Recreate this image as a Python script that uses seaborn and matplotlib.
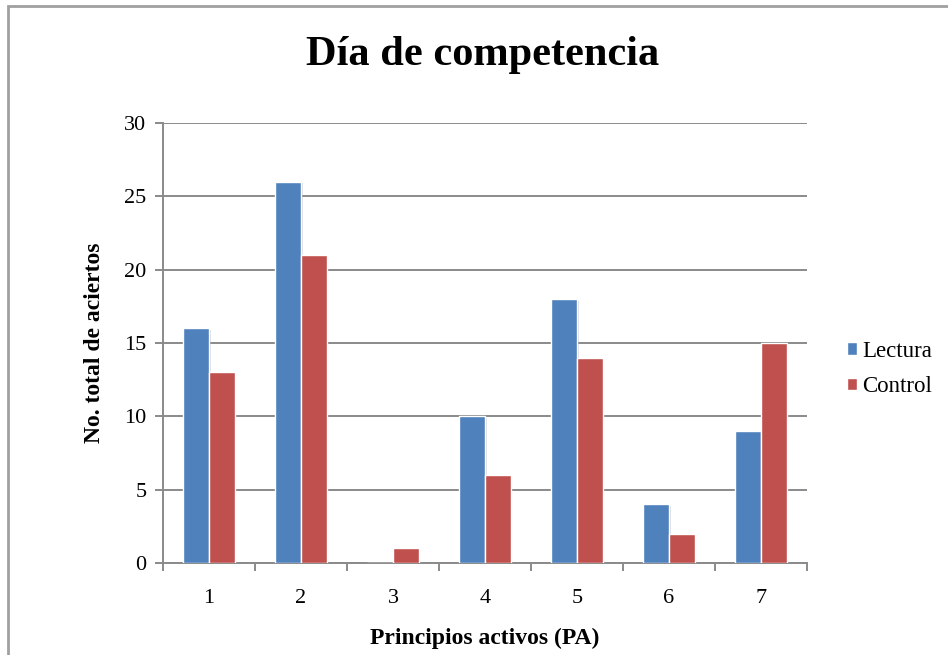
import matplotlib
matplotlib.use("Agg")
import matplotlib.pyplot as plt
import matplotlib.patheffects as pe
from matplotlib.patches import Rectangle, Patch
import numpy as np
import pandas as pd
import seaborn as sns

# Data
principios = ["1", "2", "3", "4", "5", "6", "7"]
lectura = [16, 26, 0, 10, 18, 4, 9]
control = [13, 21, 1, 6, 14, 2, 15]
series_names = ["Lectura", "Control"]
series_colors = ["#4F81BD", "#C0504D"]

df = pd.DataFrame({
    "PA": principios * 2,
    "valor": lectura + control,
    "grupo": [series_names[0]] * len(principios) + [series_names[1]] * len(principios),
})

sns.set_theme(style="white")
plt.rcParams["font.family"] = ["Liberation Serif", "DejaVu Serif"]
plt.rcParams["text.color"] = "black"
plt.rcParams["axes.labelcolor"] = "black"

fig = plt.figure(figsize=(9.48, 6.55), dpi=100)
ax = fig.add_axes([163 / 948, 1 - 563 / 655, (807 - 163) / 948, (563 - 123) / 655])

sns.barplot(data=df, x="PA", y="valor", hue="grupo", order=principios,
            hue_order=series_names, palette=series_colors, width=0.56,
            edgecolor="white", linewidth=1.0, saturation=1, ax=ax, zorder=3)

# soft drop shadow on the bars
for bar in ax.patches:
    if bar.get_height() > 0:
        bar.set_path_effects([pe.SimplePatchShadow(offset=(1.2, -1.2), shadow_rgbFace="#9A9A9A", alpha=0.35),
                              pe.Normal()])

grid_c = "#8A8A8A"
ax.set_ylim(0, 30)
ax.set_xlim(-0.5, len(principios) - 0.5)
ax.set_yticks(np.arange(0, 31, 5))
ax.yaxis.grid(True, color=grid_c, linewidth=1.4, zorder=0)
ax.set_axisbelow(True)

# category boundaries carry the tick marks, labels sit in the middle
ax.set_xticks(np.arange(-0.5, len(principios), 1.0))
ax.set_xticklabels([])
ax.set_xticks(np.arange(len(principios)), minor=True)
ax.set_xticklabels(principios, minor=True)
ax.tick_params(axis="x", which="major", length=6, width=1.4, color=grid_c, direction="out", bottom=True)
ax.tick_params(axis="x", which="minor", length=0, pad=19, labelsize=16, labelcolor="black")
ax.tick_params(axis="y", length=6, width=1.4, color=grid_c, direction="out", left=True, pad=6,
               labelsize=16, labelcolor="black")
for lab in ax.get_xticklabels(minor=True) + ax.get_yticklabels():
    lab.set_fontfamily("Liberation Serif")

for s in ["top", "right"]:
    ax.spines[s].set_visible(False)
for s in ["left", "bottom"]:
    ax.spines[s].set_color(grid_c)
    ax.spines[s].set_linewidth(1.4)

ax.set_xlabel("Principios activos (PA)", fontsize=17, fontweight="bold", labelpad=14)
ax.set_ylabel("No. total de aciertos", fontsize=17, fontweight="bold", labelpad=14)

fig.text(483 / 948, 1 - 65 / 655, "Día de competencia", ha="center", va="baseline",
         fontsize=30.5, fontweight="bold")

ax.legend_.remove()
handles = [Patch(facecolor=c, edgecolor="white", label=n) for n, c in zip(series_names, series_colors)]
fig.legend(handles=handles, loc="center left", bbox_to_anchor=(847 / 948, 1 - 369 / 655),
           frameon=False, prop={"family": "Liberation Serif", "size": 16.5},
           handlelength=0.45, handleheight=0.45,
           handletextpad=0.2, labelspacing=0.65, borderpad=0, borderaxespad=0)

# outer chart frame
fig.patches.append(Rectangle((8 / 948, -0.1), 1.2, 1 - 6 / 655 + 0.1, transform=fig.transFigure,
                             fill=False, edgecolor="#A0A0A0", linewidth=2, clip_on=False))

fig.savefig("out.png", dpi=100)
